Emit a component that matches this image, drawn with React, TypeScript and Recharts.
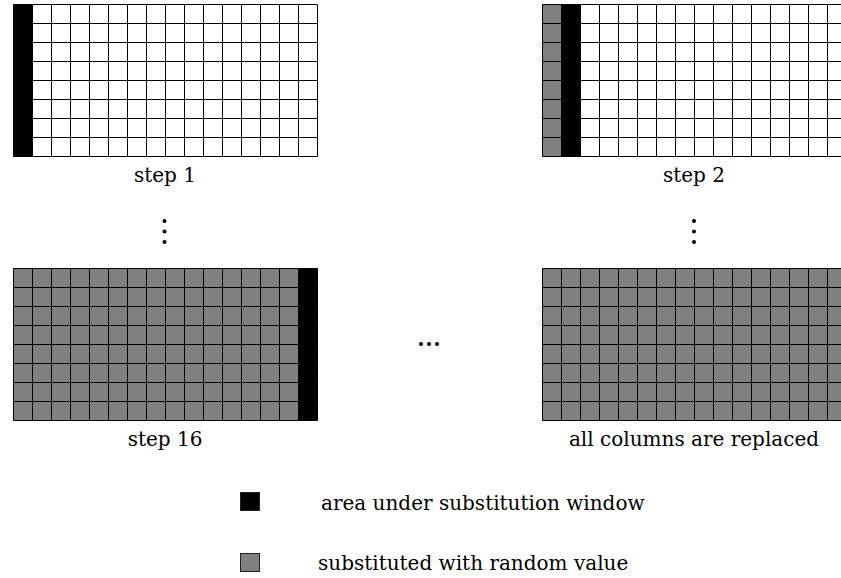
import { BarChart, Bar, Cell, XAxis, YAxis } from "recharts";

// grid of the matrix being processed
const COLUMNS = 16;
const ROWS = 8;

// one entry per panel
const panelLabels = ["step 1", "step 2", "step 16", "all columns are replaced"];
const windowColumn = [0, 1, 15, -1]; // column under the substitution window
const replacedCount = [0, 1, 15, 16]; // columns already substituted

const legendLabels = ["area under substitution window", "substituted with random value"];

const WINDOW_COLOR = "#000000";
const RANDOM_COLOR = "#808080";
const EMPTY_COLOR = "#ffffff";

const rowKeys = Array.from({ length: ROWS }, (_, r) => `r${r + 1}`);
const gridData = Array.from({ length: COLUMNS }, (_, c) => {
  const row: Record<string, number> = { col: c };
  rowKeys.forEach((k) => (row[k] = 1));
  return row;
});

const CELL = 19;
const GRID_W = CELL * COLUMNS;
const GRID_H = CELL * ROWS;

const panelPos = [
  { left: 13, top: 4 },
  { left: 542, top: 4 },
  { left: 13, top: 268 },
  { left: 542, top: 268 },
];

const font = "'DejaVu Serif', serif";

const cellFill = (panel: number, col: number) => {
  if (col === windowColumn[panel]) return WINDOW_COLOR;
  if (col < replacedCount[panel]) return RANDOM_COLOR;
  return EMPTY_COLOR;
};

const GridPanel = ({ panel }: { panel: number }) => (
  <BarChart
    width={GRID_W + 2}
    height={GRID_H + 2}
    data={gridData}
    margin={{ top: 1.5, right: 0.5, bottom: 0.5, left: 1.5 }}
    barCategoryGap={0}
    barGap={0}
  >
    <XAxis dataKey="col" hide />
    <YAxis type="number" domain={[0, ROWS]} hide />
    {rowKeys.map((k) => (
      <Bar key={k} dataKey={k} stackId="grid" stroke="#000" strokeWidth={1} isAnimationActive={false}>
        {gridData.map((d) => (
          <Cell key={d.col} fill={cellFill(panel, d.col)} />
        ))}
      </Bar>
    ))}
  </BarChart>
);

export default function App() {
  return (
    <div
      style={{
        position: "fixed",
        left: 0,
        top: 0,
        width: 841,
        height: 578,
        overflow: "hidden",
        background: "#fff",
        fontFamily: font,
      }}
    >
      {panelPos.map((p, i) => (
        <div key={i}>
          <div style={{ position: "absolute", left: p.left - 1, top: p.top - 1 }}>
            <GridPanel panel={i} />
          </div>
          <div
            style={{
              position: "absolute",
              left: p.left,
              width: GRID_W,
              top: p.top + GRID_H + 9,
              textAlign: "center",
              fontSize: 20,
              lineHeight: "20px",
              whiteSpace: "nowrap",
            }}
          >
            {panelLabels[i]}
          </div>
        </div>
      ))}

      <svg width={841} height={578} style={{ position: "absolute", left: 0, top: 0, pointerEvents: "none" }}>
        {[221, 231.5, 242].map((y) => (
          <g key={y}>
            <circle cx={164.5} cy={y} r={2} fill="#000" />
            <circle cx={694} cy={y} r={2} fill="#000" />
          </g>
        ))}
        {[421, 429, 437].map((x) => (
          <circle key={x} cx={x} cy={344} r={2} fill="#000" />
        ))}
      </svg>

      {legendLabels.map((label, i) => (
        <div key={label}>
          <div
            style={{
              position: "absolute",
              left: 240,
              top: i === 0 ? 492 : 553,
              width: 18,
              height: 17,
              background: i === 0 ? WINDOW_COLOR : RANDOM_COLOR,
              border: "1px solid #222",
            }}
          />
          <div
            style={{
              position: "absolute",
              left: i === 0 ? 321 : 318,
              top: i === 0 ? 493 : 553,
              fontSize: 20,
              lineHeight: "20px",
              whiteSpace: "nowrap",
            }}
          >
            {label}
          </div>
        </div>
      ))}
    </div>
  );
}
